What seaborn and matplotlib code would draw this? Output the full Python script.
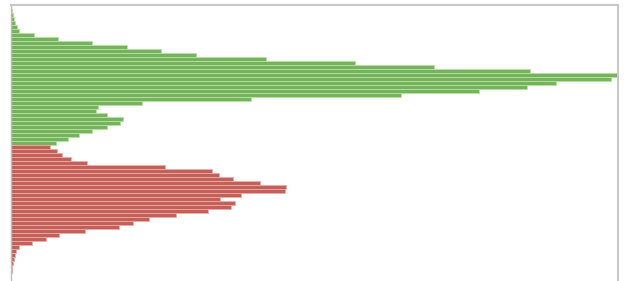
import matplotlib
matplotlib.use("Agg")
import matplotlib.pyplot as plt
import seaborn as sns
import pandas as pd
import numpy as np

# Order-book style depth profile (top: asks/green, bottom: bids/red)
green_volume = [0.7, 2, 3.3, 4.3, 5.7, 8, 23, 47, 81, 116, 150, 185, 255, 344,
                423, 519, 607, 600, 545, 516, 468, 390, 240, 131, 87, 85, 96,
                112, 109, 96, 81, 68, 57, 45]
red_volume = [39, 46, 51, 60, 76, 154, 201, 208, 222, 249, 275, 274, 230, 209,
              224, 220, 197, 165, 138, 122, 108, 74, 48, 35, 21, 8, 5, 4, 3, 2,
              1.3, 0.6]

green_levels = list(range(len(green_volume)))
red_levels = list(range(len(green_volume), len(green_volume) + len(red_volume)))

df_green = pd.DataFrame({"level": green_levels, "volume": green_volume})
df_red = pd.DataFrame({"level": red_levels, "volume": red_volume})

sns.set_theme(style="white")
fig = plt.figure(figsize=(6.33, 2.81), dpi=100)
ax = fig.add_axes([11 / 633, 0.0, (618 - 11) / 633, 1 - 5 / 281])

sns.barplot(data=df_green, x="volume", y="level", orient="h", native_scale=True,
            color="#76b35f", saturation=1, width=0.78,
            edgecolor="#b4e39c", linewidth=0.6, ax=ax)
sns.barplot(data=df_red, x="volume", y="level", orient="h", native_scale=True,
            color="#c2605a", saturation=1, width=0.78,
            edgecolor="#f2aaa2", linewidth=0.6, ax=ax)

n_total = len(green_volume) + len(red_volume)
ax.set_ylim(n_total + 1.5, -1.5)
ax.set_xlim(0, max(green_volume + red_volume))

ax.set_xticks([])
ax.set_yticks([])
ax.set_xlabel("")
ax.set_ylabel("")

for side in ["top", "right"]:
    ax.spines[side].set_visible(True)
    ax.spines[side].set_color("#c8c8c8")
    ax.spines[side].set_linewidth(1.5)
ax.spines["left"].set_visible(True)
ax.spines["left"].set_color("#bcbcbc")
ax.spines["left"].set_linewidth(1.0)
ax.spines["bottom"].set_visible(False)

fig.savefig("out.png", dpi=100)
